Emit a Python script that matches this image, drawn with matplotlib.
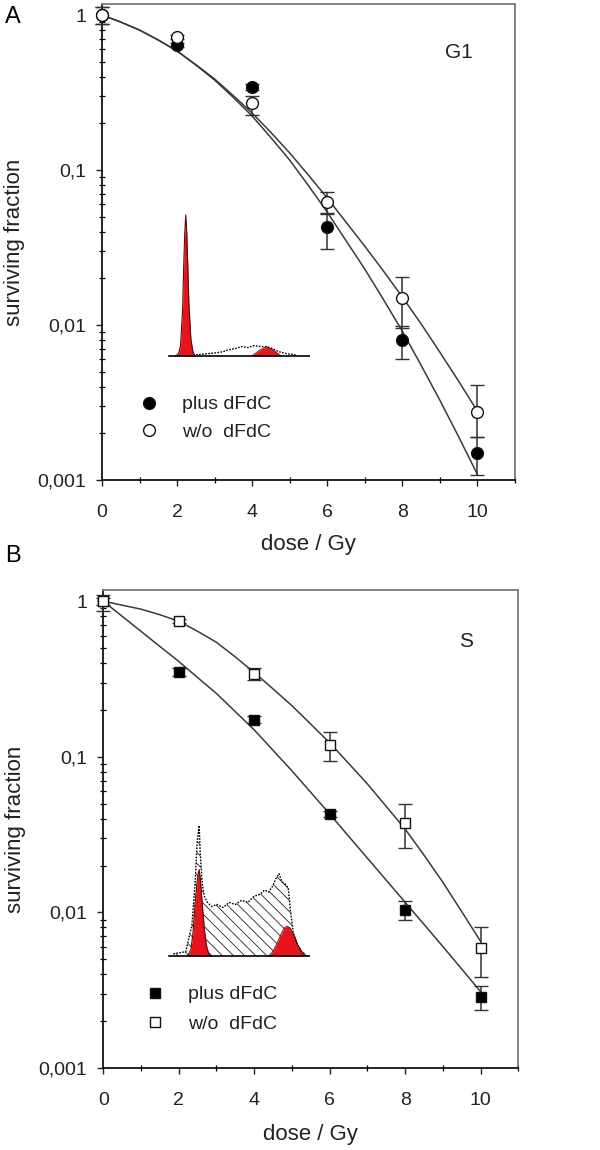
import numpy as np
import matplotlib.pyplot as plt
from matplotlib.ticker import FixedLocator, LogLocator, NullFormatter

plt.rcParams['font.family'] = ['Liberation Sans', 'DejaVu Sans']
plt.rcParams['hatch.linewidth'] = 0.6

##################################################
## data
##################################################
dose = [0, 2, 4, 6, 8, 10]

# panel A, G1 cells
g1_plus = [1.0, 0.64, 0.345, 0.043, 0.008, 0.00149]
g1_plus_lo = [0.87, 0.62, 0.33, 0.031, 0.006, 0.00108]
g1_plus_hi = [1.13, 0.66, 0.36, 0.053, 0.0099, 0.0019]
g1_wo = [1.0, 0.72, 0.27, 0.062, 0.0149, 0.00275]
g1_wo_lo = [0.87, 0.70, 0.226, 0.052, 0.0095, 0.0019]
g1_wo_hi = [1.13, 0.74, 0.30, 0.072, 0.0205, 0.0041]

# panel B, S cells
s_plus = [1.0, 0.348, 0.173, 0.0429, 0.0103, 0.00287]
s_plus_lo = [0.95, 0.33, 0.165, 0.041, 0.0090, 0.00237]
s_plus_hi = [1.05, 0.37, 0.182, 0.045, 0.0118, 0.00338]
s_wo = [1.0, 0.743, 0.338, 0.119, 0.0375, 0.00594]
s_wo_lo = [0.86, 0.72, 0.31, 0.094, 0.0259, 0.00386]
s_wo_hi = [1.10, 0.77, 0.37, 0.145, 0.0497, 0.0081]

# fitted curves, read every 0.5 Gy
dose_fit = [0, 0.5, 1, 1.5, 2, 2.5, 3, 3.5, 4, 4.5, 5, 5.5, 6, 6.5, 7, 7.5, 8, 8.5, 9, 9.5, 10]
g1_wo_fit = [1.0, 0.901, 0.800, 0.690, 0.586, 0.479, 0.387, 0.302, 0.233, 0.175, 0.129,
             0.0928, 0.0660, 0.0462, 0.0323, 0.0223, 0.0152, 0.0102, 0.0067, 0.00435, 0.00279]
g1_plus_fit = [1.0, 0.901, 0.800, 0.690, 0.586, 0.476, 0.381, 0.294, 0.223, 0.162, 0.116,
               0.0794, 0.0536, 0.0351, 0.0230, 0.0146, 0.00915, 0.00552, 0.00328, 0.00191, 0.00109]
s_wo_fit = [1.0, 0.942, 0.888, 0.818, 0.743, 0.640, 0.544, 0.438, 0.348, 0.273, 0.213,
            0.162, 0.123, 0.0908, 0.0669, 0.0479, 0.0343, 0.0233, 0.0156, 0.0101, 0.0065]
s_plus_fit = [1.0, 0.800, 0.640, 0.512, 0.410, 0.323, 0.255, 0.195, 0.149, 0.110, 0.0812,
              0.0590, 0.0429, 0.0309, 0.0223, 0.0161, 0.0116, 0.00837, 0.00603, 0.00432, 0.00309]

ytick_vals = [0.001, 0.01, 0.1, 1]
ytick_text = ['0,001', '0,01', '0,1', '1']
xtick_vals = [0, 2, 4, 6, 8, 10]

# DNA histogram insets (channel, counts)
histA_ch = [10, 13, 15, 17, 18, 19, 20, 21, 22, 23, 25, 27, 29]
histA_red = [0, 2, 10, 45, 85, 118, 137, 120, 88, 52, 16, 4, 0]
histA_ch2 = [84, 88, 92, 96, 98, 100, 104, 108, 112]
histA_red2 = [0, 3, 6, 8, 9, 8, 6, 3, 0]
histA_out_ch = [30, 40, 50, 56, 62, 68, 74, 80, 86, 92, 98, 104, 110, 118, 126]
histA_out = [1, 2, 3, 4, 6, 7, 9, 8, 10, 9, 9, 7, 4, 2, 1]

histB_ch = [22, 25, 27, 29, 31, 32, 33, 34, 36, 38, 40, 42, 45]
histB_red = [0, 6, 22, 50, 72, 80, 84, 76, 50, 26, 10, 3, 0]
histB_ch2 = [100, 104, 108, 112, 115, 118, 121, 124, 128, 132, 136]
histB_red2 = [0, 4, 12, 21, 27, 29, 27, 21, 11, 4, 0]
histB_out_ch = [8, 20, 26, 29, 31, 33, 34, 36, 38, 41, 45, 50, 56, 62, 68, 74, 80, 86, 92, 96,
                100, 104, 107, 110, 113, 116, 119, 121, 124, 128, 132, 136]
histB_out = [2, 4, 30, 70, 110, 127, 100, 70, 58, 52, 48, 50, 47, 52, 50, 54, 52, 58, 60, 64,
             62, 68, 75, 80, 72, 70, 66, 45, 22, 11, 4, 1]


##################################################
## helpers
##################################################
def style_axis(ax):
    ax.set_yscale('log')
    ax.set_xlim(0, 11)
    ax.set_ylim(0.001, 1.18)
    ax.yaxis.set_major_locator(FixedLocator(ytick_vals))
    ax.set_yticklabels(ytick_text)
    ax.yaxis.set_minor_locator(LogLocator(base=10, subs=np.arange(2, 10)))
    ax.yaxis.set_minor_formatter(NullFormatter())
    ax.set_xticks(xtick_vals)
    ax.set_xticks([1, 3, 5, 7, 9, 11], minor=True)
    ax.tick_params(axis='both', which='major', direction='out', length=4.5, width=1,
                   labelsize=14, colors='#222222', top=False, right=False)
    ax.tick_params(axis='y', which='major', pad=7)
    ax.tick_params(axis='x', which='major', pad=12.5)
    ax.tick_params(axis='both', which='minor', direction='inout', length=4, width=0.9,
                   top=False, right=False)
    for side in ['left', 'bottom']:
        ax.spines[side].set_color('#111111')
        ax.spines[side].set_linewidth(1.3)
    for side in ['top', 'right']:
        ax.spines[side].set_color('#7a7a7a')
        ax.spines[side].set_linewidth(1.3)
    ax.set_xlabel('dose / Gy', fontsize=16, color='#222222')
    ax.set_ylabel('surviving fraction', fontsize=16, color='#222222')


def draw_series(ax, y, lo, hi, marker, face):
    err = [np.array(y) - np.array(lo), np.array(hi) - np.array(y)]
    ms = 8.5 if marker == 'o' else 6.5
    ax.errorbar(dose, y, yerr=err, fmt=marker, ms=ms, mfc=face, mec='#111111',
                mew=1.0, ecolor='#333333', elinewidth=1.1, capsize=5, capthick=1.1,
                clip_on=False, zorder=4)


def draw_hist(ax, ch, red, ch2, red2, out_ch, out, hatch=False):
    ax.fill_between(ch, red, color='#e8141c', lw=0, zorder=2)
    ax.plot(ch, red, color='#5a0a0a', lw=0.8, zorder=3)
    ax.fill_between(ch2, red2, color='#e8141c', lw=0, zorder=2)
    ax.plot(ch2, red2, color='#5a0a0a', lw=0.6, zorder=3)
    ax.plot(out_ch, out, color='black', lw=1.0, ls=(0, (1.2, 1.0)), zorder=4)
    if hatch:
        ax.fill_between(out_ch, out, facecolor='none', edgecolor='#222222', hatch='\\\\\\',
                        lw=0, zorder=1)
    ax.axhline(0, color='black', lw=1.2, xmin=0.03, xmax=1.0, zorder=5)
    ax.set_xlim(0, 140)
    ax.set_ylim(-6, 140)
    ax.axis('off')


##################################################
## figure
##################################################
fig = plt.figure(figsize=(6, 11.5), dpi=100)

axA = fig.add_axes([0.170, 0.5826, 0.688, 0.414])
axB = fig.add_axes([0.172, 0.0713, 0.692, 0.4157])

# panel A
axA.plot(dose_fit, g1_wo_fit, color='#3a3a3a', lw=1.1, zorder=2)
axA.plot(dose_fit, g1_plus_fit, color='#3a3a3a', lw=1.1, zorder=2)
draw_series(axA, g1_plus, g1_plus_lo, g1_plus_hi, 'o', 'black')
draw_series(axA, g1_wo, g1_wo_lo, g1_wo_hi, 'o', 'white')
style_axis(axA)
axA.xaxis.set_label_coords(0.5, -0.113)
axA.yaxis.set_label_coords(-0.186, 0.5)
axA.text(0.865, 0.898, 'G1', transform=axA.transAxes, fontsize=15, ha='center', va='center',
         color='#222222')
hA = [axA.plot([], [], 'o', ms=8.5, mfc='black', mec='#111111')[0],
      axA.plot([], [], 'o', ms=8.5, mfc='white', mec='#111111')[0]]
axA.legend(hA, ['plus dFdC', 'w/o  dFdC'], loc='upper left', bbox_to_anchor=(0.09, 0.177),
           frameon=False, fontsize=14, handlelength=1.0, handletextpad=1.2,
           borderpad=0, borderaxespad=0, labelspacing=0.5, labelcolor='#222222')

# panel B
axB.plot(dose_fit, s_wo_fit, color='#3a3a3a', lw=1.1, zorder=2)
axB.plot(dose_fit, s_plus_fit, color='#3a3a3a', lw=1.1, zorder=2)
draw_series(axB, s_plus, s_plus_lo, s_plus_hi, 's', 'black')
draw_series(axB, s_wo, s_wo_lo, s_wo_hi, 's', 'white')
style_axis(axB)
axB.xaxis.set_label_coords(0.5, -0.117)
axB.yaxis.set_label_coords(-0.186, 0.5)
axB.text(0.875, 0.892, 'S', transform=axB.transAxes, fontsize=15, ha='center', va='center',
         color='#222222')
hB = [axB.plot([], [], 's', ms=6.5, mfc='black', mec='#111111')[0],
      axB.plot([], [], 's', ms=6.5, mfc='white', mec='#111111')[0]]
axB.legend(hB, ['plus dFdC', 'w/o  dFdC'], loc='upper left', bbox_to_anchor=(0.102, 0.172),
           frameon=False, fontsize=14, handlelength=1.0, handletextpad=1.2,
           borderpad=0, borderaxespad=0, labelspacing=0.6, labelcolor='#222222')

# insets with DNA histograms
insA = fig.add_axes([165 / 600, 1 - 362 / 1150, 145 / 600, 150 / 1150])
draw_hist(insA, histA_ch, histA_red, histA_ch2, histA_red2, histA_out_ch, histA_out)
insB = fig.add_axes([165 / 600, 1 - 962 / 1150, 145 / 600, 150 / 1150])
draw_hist(insB, histB_ch, histB_red, histB_ch2, histB_red2, histB_out_ch, histB_out, hatch=True)

# panel letters
fig.text(0.008, 0.985, 'A', fontsize=17, ha='left', va='center')
fig.text(0.008, 0.5165, 'B', fontsize=17, ha='left', va='center')

fig.savefig('out.png', dpi=100)
